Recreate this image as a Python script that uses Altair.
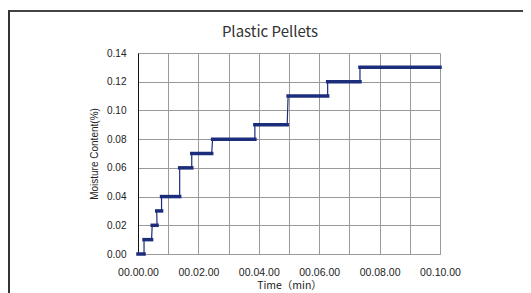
import altair as alt
import pandas as pd

# Moisture levels (%) and the time span (min) each level is held
levels = [0.00, 0.01, 0.02, 0.03, 0.04, 0.06, 0.07, 0.08, 0.09, 0.11, 0.12, 0.13]
starts = [0.00, 0.20, 0.47, 0.62, 0.78, 1.38, 1.78, 2.47, 3.87, 4.97, 6.28, 7.35]
ends = [0.20, 0.45, 0.63, 0.78, 1.38, 1.78, 2.44, 3.87, 4.94, 6.28, 7.35, 10.00]

x_ticks = [0, 1, 2, 3, 4, 5, 6, 7, 8, 9, 10]
y_ticks = [0.00, 0.02, 0.04, 0.06, 0.08, 0.10, 0.12, 0.14]
chart_title = "Plastic Pellets"

seg = pd.DataFrame({"level": levels, "start": starts, "end": ends})
pts = []
for i, (lv, s, e) in enumerate(zip(levels, starts, ends)):
    pts.append({"t": s, "m": lv, "o": 2 * i})
    pts.append({"t": e, "m": lv, "o": 2 * i + 1})
line_df = pd.DataFrame(pts)

NAVY = "#1c2d7c"

x_scale = alt.Scale(domain=[0, 10], nice=False)
y_scale = alt.Scale(domain=[0, 0.14], nice=False)

x_axis = alt.Axis(
    values=x_ticks,
    labelExpr="datum.value % 2 == 0 ? '00.' + (datum.value < 10 ? '0' : '') + datum.value + '.00' : ''",
    title="Time（min）",
    grid=True, gridColor="#9a9a9a", gridOpacity=1,
    domainColor="#9a9a9a", ticks=False,
    labelFont="Liberation Sans", labelFontSize=10.5, labelColor="#222",
    labelPadding=13, labelFlush=False, labelOverlap=False,
    titleFont="Noto Sans CJK JP", titleFontSize=10.5, titleFontWeight="normal",
    titleColor="#222", titlePadding=3,
)
y_axis = alt.Axis(
    values=y_ticks, format=".2f",
    title="Moisture Content(%)",
    grid=True, gridColor="#9a9a9a", gridOpacity=1,
    domainColor="#111", ticks=False,
    labelFont="Liberation Sans", labelFontSize=10, labelColor="#222",
    labelPadding=12, labelOverlap=False,
    titleFont="Liberation Sans", titleFontSize=10, titleFontWeight="normal",
    titleColor="#222", titlePadding=7,
)

thin = alt.Chart(line_df).mark_line(color=NAVY, strokeWidth=1.2).encode(
    x=alt.X("t:Q", scale=x_scale, axis=x_axis),
    y=alt.Y("m:Q", scale=y_scale, axis=y_axis),
    order="o:Q",
)
thick = alt.Chart(seg).mark_rule(color=NAVY, strokeWidth=3.5, strokeCap="square").encode(
    x=alt.X("start:Q", scale=x_scale, axis=x_axis),
    x2="end:Q",
    y=alt.Y("level:Q", scale=y_scale, axis=y_axis),
)

frame_top = alt.Chart(seg).mark_rule(color="#444", strokeWidth=2, clip=False).encode(
    x=alt.value(-129), x2=alt.value(395), y=alt.value(-42)
)
frame_left = alt.Chart(seg).mark_rule(color="#333", strokeWidth=2, clip=False).encode(
    x=alt.value(-129), y=alt.value(-43), y2=alt.value(260)
)
title_text = alt.Chart(seg.head(1)).mark_text(
    font="Noto Sans CJK JP", fontSize=15, color="#333", align="center",
    baseline="middle", clip=False,
).encode(x=alt.value(132), y=alt.value(-21), text=alt.value(chart_title))

chart = (
    alt.layer(thin, thick, frame_top, frame_left, title_text)
    .properties(
        width=302,
        height=201,
        autosize=alt.AutoSizeParams(type="none"),
        padding={"left": 130, "top": 45, "right": 83, "bottom": 40},
    )
    .configure_view(stroke="#9a9a9a", strokeWidth=1)
    .configure(background="white")
)

chart.save("out.html", embed_options={"renderer": "svg", "actions": False})
